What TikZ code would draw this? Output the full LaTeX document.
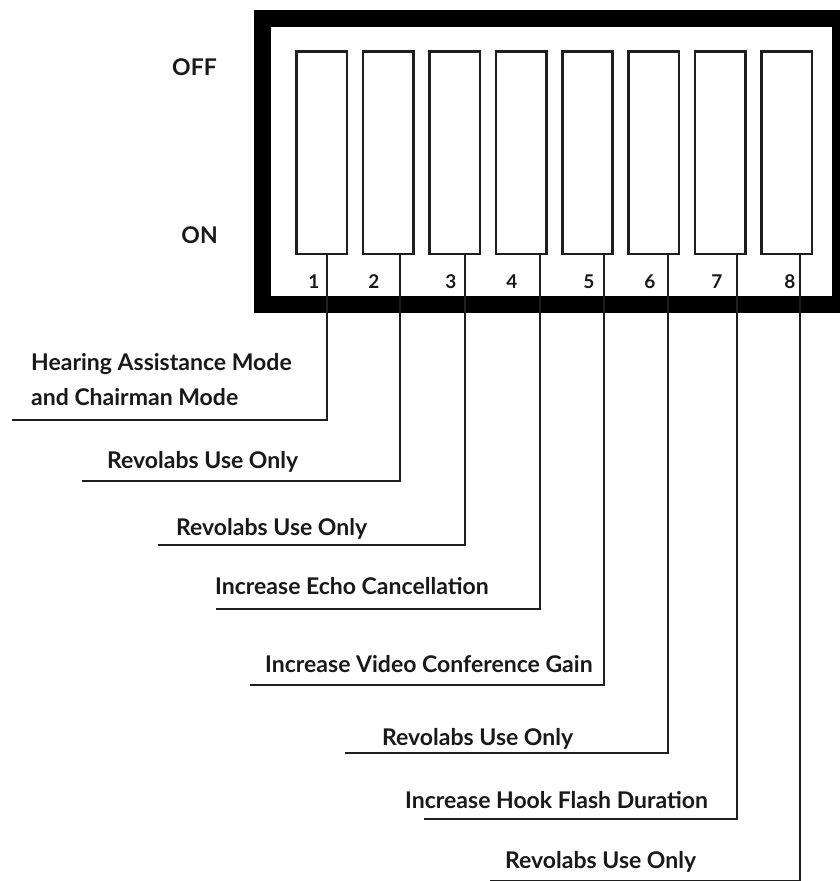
\documentclass[tikz,border=0pt]{standalone}
\usepackage{fontspec}
\setmainfont{Lato}
\begin{document}
\begin{tikzpicture}[x=1pt,y=-1pt,
  frame/.style={draw=black,line width=17pt},
  sw/.style={draw=black!88,line width=2.6pt,minimum width=50.4pt,minimum height=202.4pt,inner sep=0pt,anchor=north west},
  conn/.style={draw=black!88,line width=2.6pt},
  lab/.style={font=\bfseries\fontsize{23}{27}\selectfont,text=black!90,anchor=base west,inner sep=0pt},
  num/.style={font=\bfseries\fontsize{19}{21}\selectfont,text=black!90,anchor=base,inner sep=0pt},
  side/.style={font=\bfseries\fontsize{23}{27}\selectfont,text=black!90,anchor=base east,inner sep=0pt}]
\fill[white] (0,0) rectangle (840,881);
\useasboundingbox (0,0) rectangle (840,881);
% outer frame
\draw[frame] (262,18) rectangle (840.5,304);
% switches
\foreach \i in {1,...,8}{
  \node[sw] (sw\i) at ({295.3+66.4*(\i-1)},50.3) {};
}
% numbers
\node[num] (d1) at (314,288) {1};
\node[num] (d2) at (374,288) {2};
\node[num] (d3) at (451,288) {3};
\node[num] (d4) at (512,288) {4};
\node[num] (d5) at (589,288) {5};
\node[num] (d6) at (650,288) {6};
\node[num] (d7) at (717,288) {7};
\node[num] (d8) at (790,288) {8};
% OFF / ON
\node[side] (off) at (217,75) {OFF};
\node[side] (on) at (218,243) {ON};
% end points of connectors
\coordinate (e1) at (12,420);
\coordinate (e2) at (82,481);
\coordinate (e3) at (158,545);
\coordinate (e4) at (216,609);
\coordinate (e5) at (250,685);
\coordinate (e6) at (345,753);
\coordinate (e7) at (424,819);
\coordinate (e8) at (490,881);
% connectors
\draw[conn] (sw1.south west) ++(31.7,0) |- (e1);
\draw[conn] (sw2.south west) ++(38.3,0) |- (e2);
\draw[conn] (sw3.south west) ++(36.9,0) |- (e3);
\draw[conn] (sw4.south west) ++(45.5,0) |- (e4);
\draw[conn] (sw5.south west) ++(43.1,0) |- (e5);
\draw[conn] (sw6.south west) ++(40.7,0) |- (e6);
\draw[conn] (sw7.south west) ++(43.3,0) |- (e7);
\draw[conn] (sw8.south west) ++(39.9,0) |- (e8);
% labels
\node[lab] (t1a) at (31,370) {Hearing Assistance Mode};
\node[lab] (t1b) at (31,405) {and Chairman Mode};
\node[lab] (t2) at (107,468) {Revolabs Use Only};
\node[lab] (t3) at (176,535) {Revolabs Use Only};
\node[lab] (t4) at (215,594) {Increase Echo Cancellation};
\node[lab] (t5) at (265,672) {Increase Video Conference Gain};
\node[lab] (t6) at (382,745) {Revolabs Use Only};
\node[lab] (t7) at (405,808) {Increase Hook Flash Duration};
\node[lab] (t8) at (505,868) {Revolabs Use Only};
\end{tikzpicture}
\end{document}
